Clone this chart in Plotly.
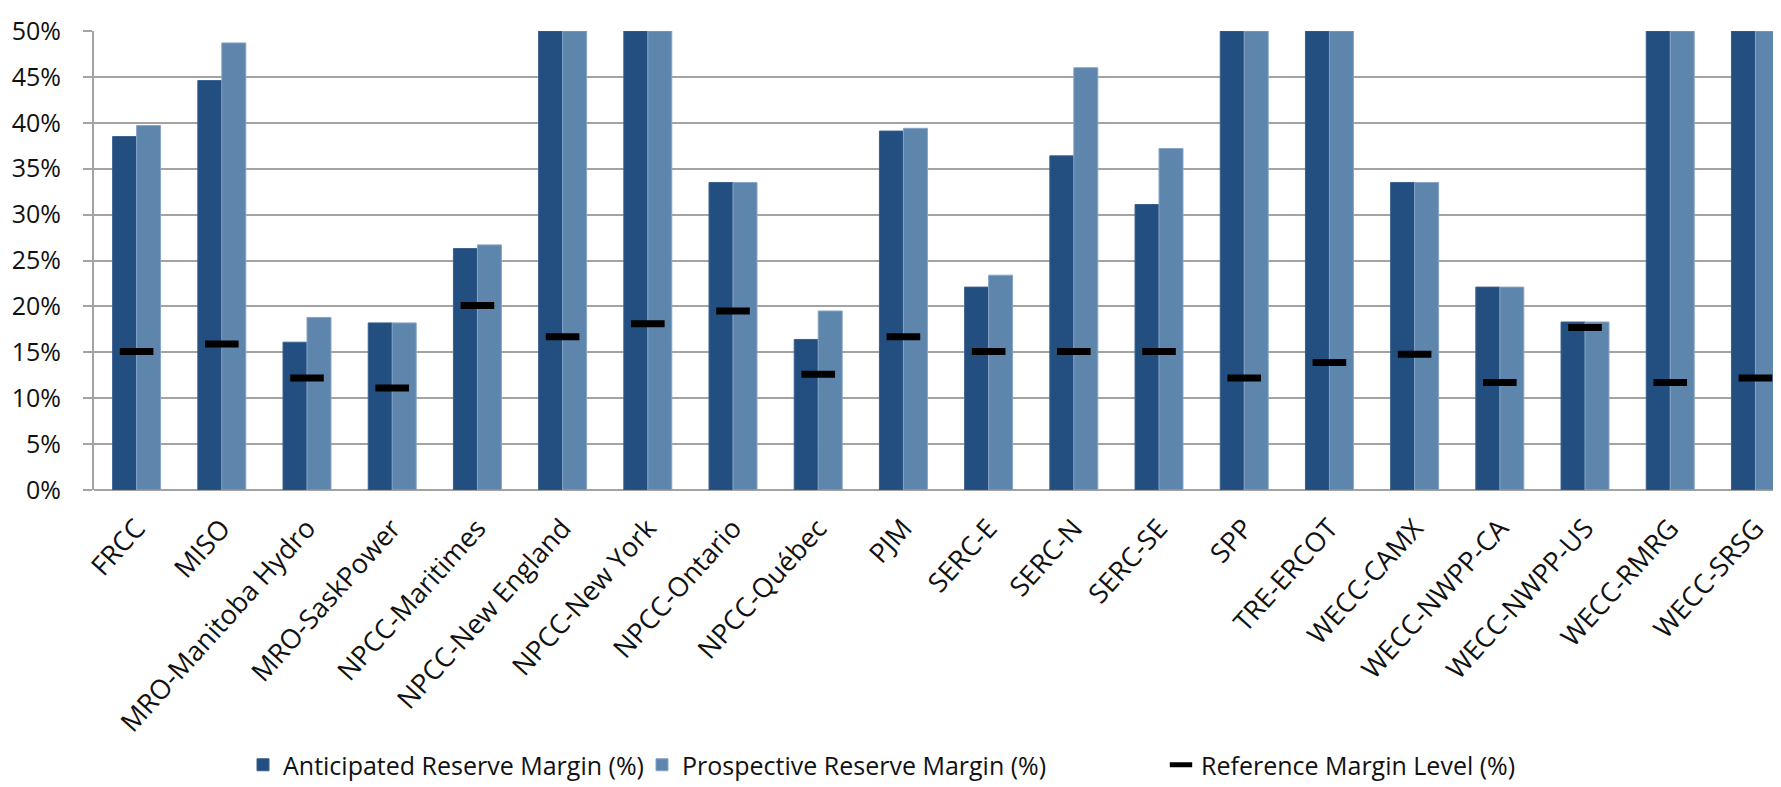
import plotly.graph_objects as go

regions = ["FRCC", "MISO", "MRO-Manitoba Hydro", "MRO-SaskPower", "NPCC-Maritimes",
           "NPCC-New England", "NPCC-New York", "NPCC-Ontario", "NPCC-Québec", "PJM",
           "SERC-E", "SERC-N", "SERC-SE", "SPP", "TRE-ERCOT", "WECC-CAMX",
           "WECC-NWPP-CA", "WECC-NWPP-US", "WECC-RMRG", "WECC-SRSG"]

anticipated = [38.5, 44.6, 16.1, 18.2, 26.3, 50.0, 50.0, 33.5, 16.4, 39.1,
               22.1, 36.4, 31.1, 50.0, 50.0, 33.5, 22.1, 18.3, 50.0, 50.0]
prospective = [39.7, 48.7, 18.8, 18.2, 26.7, 50.0, 50.0, 33.5, 19.5, 39.4,
               23.4, 46.0, 37.2, 50.0, 50.0, 33.5, 22.1, 18.3, 50.0, 50.0]
reference = [15.1, 15.9, 12.2, 11.1, 20.1, 16.7, 18.1, 19.5, 12.6, 16.7,
             15.1, 15.1, 15.1, 12.2, 13.9, 14.8, 11.7, 17.7, 11.7, 12.2]

y_ticks = [0, 5, 10, 15, 20, 25, 30, 35, 40, 45, 50]
y_tick_text = [f"{v}%" for v in y_ticks]

FONT = "Open Sans"
TXT = "#111111"
GRID = "#A3A3A3"

fig = go.Figure()
fig.add_trace(go.Bar(
    x=regions, y=anticipated, name="Anticipated Reserve Margin (%)",
    marker=dict(color="#224E80", line=dict(color="#3A5F8E", width=1)),
    legend="legend", hoverinfo="x+y",
))
fig.add_trace(go.Bar(
    x=regions, y=prospective, name="Prospective Reserve Margin (%)",
    marker=dict(color="#5E85AB", line=dict(color="#86A4C6", width=1)),
    legend="legend2", hoverinfo="x+y",
))
fig.add_trace(go.Scatter(
    x=regions, y=reference, name="Reference Margin Level (%)", mode="markers",
    marker=dict(symbol="line-ew", size=24, color="black",
                line=dict(color="black", width=7)),
    legend="legend3", hoverinfo="x+y",
))

W, H = 1781, 787
legend_common = dict(orientation="h", xref="container", yref="container",
                     xanchor="left", yanchor="middle", y=1 - 757 / H,
                     font=dict(family=FONT, size=25, color=TXT),
                     bgcolor="rgba(0,0,0,0)", borderwidth=0)

fig.update_layout(
    width=W, height=H,
    margin=dict(l=86, r=0, t=23, b=305),
    paper_bgcolor="white", plot_bgcolor="white",
    barmode="group", bargap=0.437, bargroupgap=0,
    font=dict(family=FONT, size=25, color=TXT),
    xaxis=dict(
        range=[-0.5, 19.394], tickangle=-48, showgrid=False,
        showline=False, ticks="", tickfont=dict(family=FONT, size=27, color=TXT),
        ticklabelstandoff=16, zeroline=False, fixedrange=True,
    ),
    yaxis=dict(
        range=[0, 50], tickvals=y_ticks, ticktext=y_tick_text,
        showgrid=True, gridcolor=GRID, gridwidth=2,
        showline=True, linecolor=GRID, linewidth=2,
        ticks="outside", ticklen=9, tickcolor=GRID, tickwidth=2,
        ticklabelstandoff=17,
        zeroline=True, zerolinecolor=GRID, zerolinewidth=2,
        tickfont=dict(family=FONT, size=25, color=TXT), fixedrange=True,
    ),
    legend=dict(legend_common, x=235 / W),
    legend2=dict(legend_common, x=634 / W),
    legend3=dict(legend_common, x=1153 / W),
    showlegend=True,
)

fig.write_html("out.html")
